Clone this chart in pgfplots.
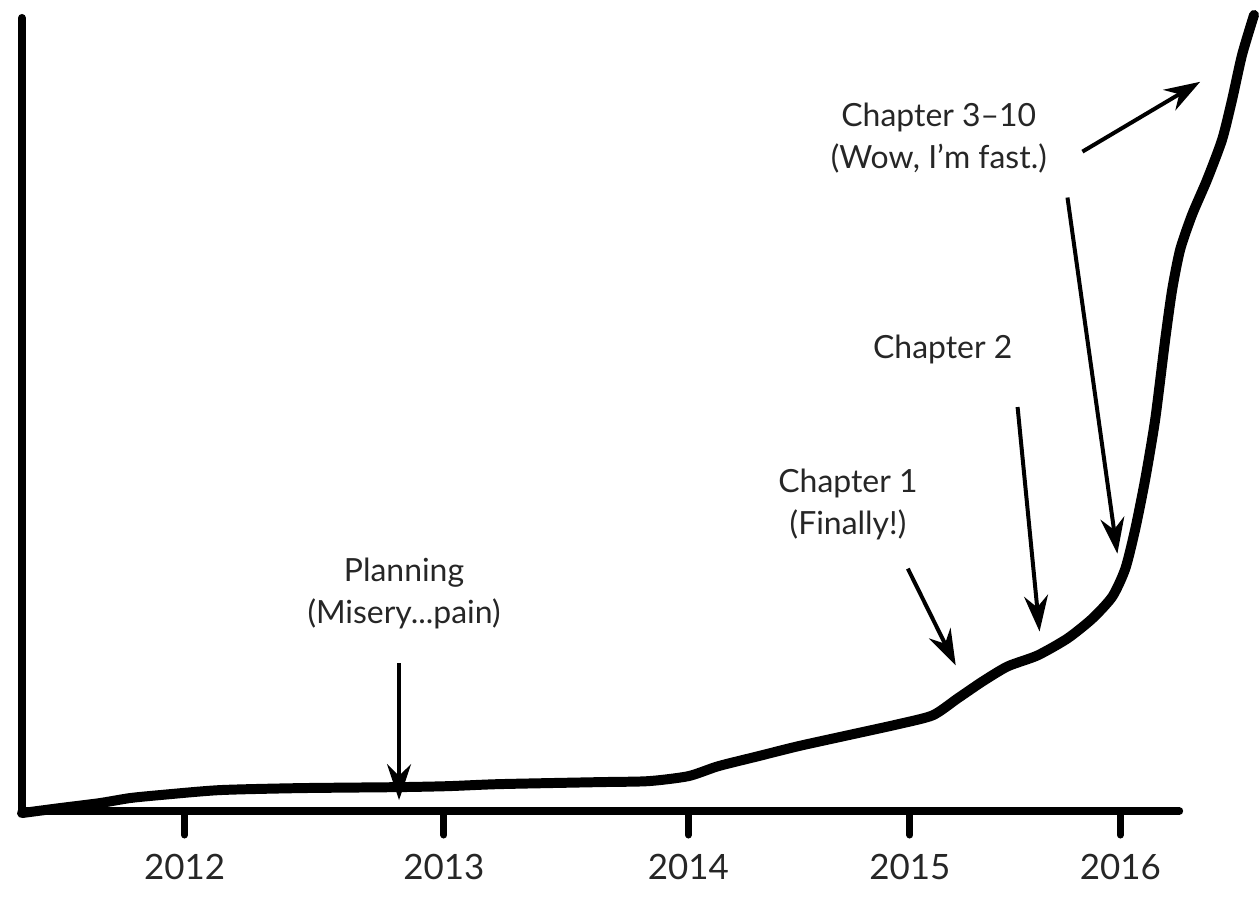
\documentclass[border=0pt]{standalone}
\usepackage{fontspec}
\setmainfont{Lato}
\usepackage{pgfplots}
\pgfplotsset{compat=1.18}
\usetikzlibrary{arrows.meta}
\begin{document}
\fontsize{16pt}{21pt}\selectfont
\begin{tikzpicture}
\begin{axis}[
  scale only axis,
  width=580pt, height=397.5pt,
  xmin=22, xmax=1182, ymin=92, ymax=887,
  clip=false,
  axis x line=bottom, axis y line=left,
  axis line style={line width=4pt,-,line cap=round},
  xtick={185,445,690,912,1123},
  xticklabels={2012,2013,2014,2015,2016},
  ytick=\empty,
  tick align=outside,
  major tick length=12pt,
  x tick style={line width=3.5pt,black,line cap=round},
  xticklabel style={font=\fontsize{17.5pt}{21pt}\selectfont, text=black!85},
  /pgf/number format/assume math mode=true,
  tick label style={yshift=-4pt},
]
\path (axis cs:0,0) rectangle (axis cs:1259,905);
\addplot[black, line width=5pt, line cap=round, line join=round, smooth, tension=0.4] coordinates {
(22,90) (60,95) (100,100) (130,105) (160,108) (220,113) (300,115) (400,116)
(450,117) (500,119) (600,121) (650,122) (690,127) (720,137) (760,147)
(800,157) (850,168) (900,179) (935,188) (960,205) (985,222) (1010,237)
(1040,248) (1070,265) (1095,285) (1115,307) (1128,335) (1138,375)
(1148,425) (1158,485) (1168,565) (1175,615) (1183,655) (1195,690)
(1210,725) (1225,765) (1235,805) (1245,850) (1257,890)
};
\tikzset{arr/.style={line width=2pt,-{Stealth[length=18pt,width=12pt]}}}
\draw[arr] (axis cs:400,240) -- (axis cs:400,103);
\draw[arr] (axis cs:910,335) -- (axis cs:958,238);
\draw[arr] (axis cs:1020,497) -- (axis cs:1042,272);
\draw[arr] (axis cs:1070,707) -- (axis cs:1120,350);
\draw[arr] (axis cs:1085,753) -- (axis cs:1203,823);
\tikzset{lbl/.style={align=center, text=black!85}}
\node[lbl] at (axis cs:941,767) {Chapter 3--10\\(Wow, I'm fast.)};
\node[lbl] at (axis cs:945,555) {Chapter 2};
\node[lbl] at (axis cs:850,399) {Chapter 1\\(Finally!)};
\node[lbl] at (axis cs:405,310) {Planning\\(Misery...pain)};
\end{axis}
\end{tikzpicture}
\end{document}
